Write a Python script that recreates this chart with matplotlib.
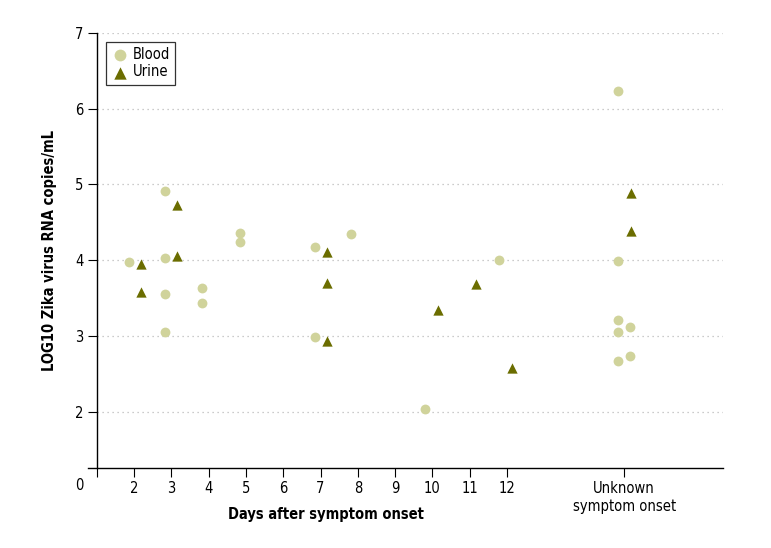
import matplotlib
matplotlib.use("Agg")
import matplotlib.pyplot as plt
import matplotlib.transforms as mtransforms

plt.rcParams['font.family'] = ['DejaVu Sans']
plt.rcParams['font.stretch'] = 'condensed'

# Values (x = day, slightly offset as in the original)
blood_x = [1.86, 2.82, 2.82, 2.82, 2.82, 3.83, 3.83, 4.83, 4.83, 6.84, 6.84, 7.81,
           9.81, 11.78, 14.99, 14.99, 14.99, 14.99, 14.99, 15.30, 15.30]
blood_y = [3.98, 4.915, 4.03, 3.555, 3.05, 3.63, 3.44, 4.365, 4.24, 4.18, 2.99, 4.34,
           2.036, 4.00, 6.24, 3.99, 3.21, 3.05, 2.67, 3.115, 2.735]
urine_x = [2.18, 2.18, 3.15, 3.15, 7.18, 7.18, 7.18, 10.15, 11.17, 12.13, 15.32, 15.32]
urine_y = [3.95, 3.585, 4.73, 4.06, 4.105, 3.70, 2.935, 3.345, 3.69, 2.57, 4.885, 4.38]

tick_pos = [1, 2, 3, 4, 5, 6, 7, 8, 9, 10, 11, 12, 15.15]
tick_labels = ['', '2', '3', '4', '5', '6', '7', '8', '9', '10', '11', '12',
               'Unknown\nsymptom onset']
y_ticks = [2, 3, 4, 5, 6, 7]

blood_color = '#d0d39b'
urine_color = '#6b6d00'

fig = plt.figure(figsize=(7.71, 5.48), dpi=100)
ax = fig.add_axes([88 / 771, 1 - 468 / 548, (723 - 88) / 771, (468 - 33) / 548])

ax.set_xlim(0.76, 17.8)
ax.set_ylim(1.256, 7)

# dotted gridlines
for yv in y_ticks:
    ax.plot([1, 17.8], [yv, yv], color='#bbbbbb', linestyle=(0, (1, 3)), linewidth=0.9, zorder=1)

ax.scatter(blood_x, blood_y, s=50, marker='o', color=blood_color, linewidths=0,
           label='Blood', zorder=3)
ax.scatter(urine_x, urine_y, s=55, marker='^', color=urine_color, linewidths=0,
           label='Urine', zorder=3)

ax.spines['top'].set_visible(False)
ax.spines['right'].set_visible(False)
ax.spines['left'].set_position(('data', 1))
ax.spines['left'].set_bounds(1.256, 7)
for s in ('left', 'bottom'):
    ax.spines[s].set_linewidth(1.0)

ax.set_yticks(y_ticks)
ax.set_yticklabels([str(v) for v in y_ticks])
ax.set_xticks(tick_pos)
ax.set_xticklabels(tick_labels)
ax.tick_params(axis='both', direction='out', length=6.5, width=0.8, labelsize=10.5,
               colors='black', pad=3)

# origin label
trans = mtransforms.blended_transform_factory(ax.transData, ax.transAxes)
ax.text(0.54, -0.022, '0', transform=trans, ha='center', va='top', fontsize=10.5)

ax.set_xlabel('Days after symptom onset', fontsize=10.5, fontweight='bold')
ax.xaxis.set_label_coords(0.375, -0.09)
ax.set_ylabel('LOG10 Zika virus RNA copies/mL', fontsize=10.5, fontweight='bold')
ax.yaxis.set_label_coords(-0.049, 0.5)

leg = ax.legend(loc='upper left', bbox_to_anchor=(0.028, 0.979), frameon=True,
                fancybox=False, fontsize=10.5, handletextpad=0.3, borderpad=0.35,
                labelspacing=0.15, handlelength=1.2, borderaxespad=0, markerscale=1.2)
leg.get_frame().set_edgecolor('black')
leg.get_frame().set_linewidth(0.9)

fig.savefig('out.png', dpi=100)
